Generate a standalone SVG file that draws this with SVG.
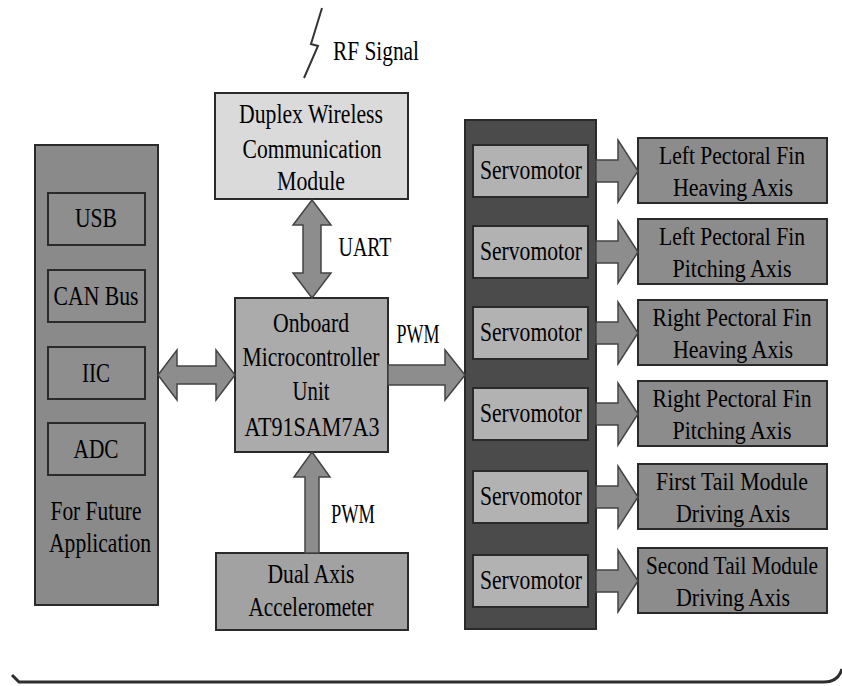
<svg xmlns="http://www.w3.org/2000/svg" width="842" height="686" viewBox="0 0 842 686">
<style>
  text { font-family: "Liberation Serif", "Times New Roman", serif; font-size: 28px; fill: #000; text-anchor: middle; }
  .o { font-size: 26px; }
  .box { stroke: #2a2a2a; stroke-width: 2; }
  .panelL { fill: #8a8a8a; }
  .inner { fill: #8e8e8e; }
  .duplex { fill: #dadada; }
  .mcu { fill: #ababab; }
  .accel { fill: #a2a2a2; }
  .dark { fill: #4b4b4b; }
  .servo { fill: #b2b2b2; }
  .out { fill: #8c8c8c; }
  .arrow { fill: #8d8d8d; stroke: #444; stroke-width: 1.5; stroke-linejoin: miter; }
  .line { fill: none; stroke: #333; stroke-width: 2; }
</style>
<rect width="842" height="686" fill="#ffffff"/>

<g id="rf-signal">
  <path class="line" d="M322,8 L311,44 L318,46 L304,78"/>
  <text x="376" y="60" textLength="86" lengthAdjust="spacingAndGlyphs">RF Signal</text>
</g>

<g id="future-panel">
  <rect class="box panelL" x="35" y="145" width="123" height="460"/>
  <text x="96" y="520" textLength="91" lengthAdjust="spacingAndGlyphs">For Future</text>
  <text x="100" y="552" textLength="102" lengthAdjust="spacingAndGlyphs">Application</text>
</g>
<g id="usb">
  <rect class="box inner" x="48" y="193" width="97" height="52"/>
  <text x="96" y="227" textLength="42" lengthAdjust="spacingAndGlyphs">USB</text>
</g>
<g id="can">
  <rect class="box inner" x="48" y="270" width="97" height="52"/>
  <text x="96" y="305" textLength="85" lengthAdjust="spacingAndGlyphs">CAN Bus</text>
</g>
<g id="iic">
  <rect class="box inner" x="48" y="347" width="97" height="52"/>
  <text x="96" y="382" textLength="28" lengthAdjust="spacingAndGlyphs">IIC</text>
</g>
<g id="adc">
  <rect class="box inner" x="48" y="423" width="97" height="52"/>
  <text x="96" y="458" textLength="45" lengthAdjust="spacingAndGlyphs">ADC</text>
</g>

<g id="duplex">
  <rect class="box duplex" x="215" y="93" width="193" height="106"/>
  <text x="311" y="123" textLength="144" lengthAdjust="spacingAndGlyphs">Duplex Wireless</text>
  <text x="312" y="158" textLength="139" lengthAdjust="spacingAndGlyphs">Communication</text>
  <text x="311" y="190" textLength="68" lengthAdjust="spacingAndGlyphs">Module</text>
</g>

<g id="mcu">
  <rect class="box mcu" x="235" y="298" width="153" height="154"/>
  <text x="311" y="332" textLength="76" lengthAdjust="spacingAndGlyphs">Onboard</text>
  <text x="311" y="366" textLength="137" lengthAdjust="spacingAndGlyphs">Microcontroller</text>
  <text x="311" y="400" textLength="37" lengthAdjust="spacingAndGlyphs">Unit</text>
  <text x="312" y="436" textLength="135" lengthAdjust="spacingAndGlyphs">AT91SAM7A3</text>
</g>

<g id="accelerometer">
  <rect class="box accel" x="216" y="553" width="192" height="77"/>
  <text x="311" y="583" textLength="87" lengthAdjust="spacingAndGlyphs">Dual Axis</text>
  <text x="311" y="616" textLength="125" lengthAdjust="spacingAndGlyphs">Accelerometer</text>
</g>

<g id="servo-panel">
  <rect class="box dark" x="465" y="120" width="131" height="509"/>
</g>

<g id="servo1"><rect class="box servo" x="473" y="145" width="115" height="52"/><text x="531" y="179" textLength="102" lengthAdjust="spacingAndGlyphs">Servomotor</text></g>
<g id="servo2"><rect class="box servo" x="473" y="226" width="115" height="52"/><text x="531" y="260" textLength="102" lengthAdjust="spacingAndGlyphs">Servomotor</text></g>
<g id="servo3"><rect class="box servo" x="473" y="307" width="115" height="52"/><text x="531" y="341" textLength="102" lengthAdjust="spacingAndGlyphs">Servomotor</text></g>
<g id="servo4"><rect class="box servo" x="473" y="388" width="115" height="52"/><text x="531" y="422" textLength="102" lengthAdjust="spacingAndGlyphs">Servomotor</text></g>
<g id="servo5"><rect class="box servo" x="473" y="471" width="115" height="52"/><text x="531" y="505" textLength="102" lengthAdjust="spacingAndGlyphs">Servomotor</text></g>
<g id="servo6"><rect class="box servo" x="473" y="555" width="115" height="52"/><text x="531" y="589" textLength="102" lengthAdjust="spacingAndGlyphs">Servomotor</text></g>

<g id="out1"><rect class="box out" x="638" y="138" width="189" height="65"/>
  <text class="o" x="732" y="164" textLength="146" lengthAdjust="spacingAndGlyphs">Left Pectoral Fin</text>
  <text class="o" x="733" y="196" textLength="120" lengthAdjust="spacingAndGlyphs">Heaving Axis</text></g>
<g id="out2"><rect class="box out" x="638" y="219" width="189" height="65"/>
  <text class="o" x="732" y="245" textLength="146" lengthAdjust="spacingAndGlyphs">Left Pectoral Fin</text>
  <text class="o" x="732" y="277" textLength="119" lengthAdjust="spacingAndGlyphs">Pitching Axis</text></g>
<g id="out3"><rect class="box out" x="638" y="300" width="189" height="65"/>
  <text class="o" x="732" y="326" textLength="159" lengthAdjust="spacingAndGlyphs">Right Pectoral Fin</text>
  <text class="o" x="733" y="358" textLength="120" lengthAdjust="spacingAndGlyphs">Heaving Axis</text></g>
<g id="out4"><rect class="box out" x="638" y="381" width="189" height="65"/>
  <text class="o" x="732" y="407" textLength="159" lengthAdjust="spacingAndGlyphs">Right Pectoral Fin</text>
  <text class="o" x="732" y="439" textLength="119" lengthAdjust="spacingAndGlyphs">Pitching Axis</text></g>
<g id="out5"><rect class="box out" x="638" y="464" width="189" height="65"/>
  <text class="o" x="732" y="490" textLength="152" lengthAdjust="spacingAndGlyphs">First Tail Module</text>
  <text class="o" x="733" y="522" textLength="114" lengthAdjust="spacingAndGlyphs">Driving Axis</text></g>
<g id="out6"><rect class="box out" x="638" y="548" width="189" height="65"/>
  <text class="o" transform="translate(732,574) scale(0.82,1)" x="0" y="0">Second Tail Module</text>
  <text class="o" x="733" y="606" textLength="114" lengthAdjust="spacingAndGlyphs">Driving Axis</text></g>

<g id="connectors">
  <path class="arrow" d="M158,375 L177,350 L177,366 L216,366 L216,350 L235,375 L216,400 L216,384 L177,384 L177,400 Z"/>
  <path class="arrow" d="M312,200 L331,225 L321,225 L321,273 L331,273 L312,298 L293,273 L303,273 L303,225 L293,225 Z"/>
  <text x="365" y="256" textLength="53" lengthAdjust="spacingAndGlyphs">UART</text>
  <path class="arrow" d="M388,365 L445,365 L445,350 L465,375 L445,400 L445,385 L388,385 Z"/>
  <text x="418" y="343" textLength="43" lengthAdjust="spacingAndGlyphs">PWM</text>
  <path class="arrow" d="M312,452 L330,477 L319,477 L319,553 L305,553 L305,477 L294,477 Z"/>
  <text x="353" y="523" textLength="44" lengthAdjust="spacingAndGlyphs">PWM</text>
  <path class="arrow" d="M596,160 L618,160 L618,140 L638,171 L618,202 L618,182 L596,182 Z"/>
  <path class="arrow" d="M596,241 L618,241 L618,221 L638,252 L618,283 L618,263 L596,263 Z"/>
  <path class="arrow" d="M596,322 L618,322 L618,302 L638,333 L618,364 L618,344 L596,344 Z"/>
  <path class="arrow" d="M596,403 L618,403 L618,383 L638,414 L618,445 L618,425 L596,425 Z"/>
  <path class="arrow" d="M596,486 L618,486 L618,466 L638,497 L618,528 L618,508 L596,508 Z"/>
  <path class="arrow" d="M596,570 L618,570 L618,550 L638,581 L618,612 L618,592 L596,592 Z"/>
</g>

<g id="frame">
  <path d="M12,675 L19,682 L824,682 Q838,682 842,669" fill="none" stroke="#2e2e2e" stroke-width="3"/>
</g>
</svg>
